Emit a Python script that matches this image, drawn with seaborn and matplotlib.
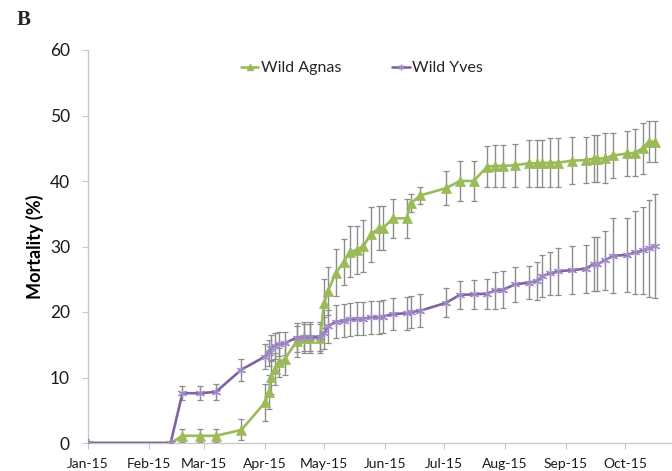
import matplotlib
matplotlib.use("Agg")
import matplotlib.pyplot as plt
import matplotlib.dates as mdates
from matplotlib.lines import Line2D
import seaborn as sns
import pandas as pd

# Sampling dates (2015)
dates = [
    "2015-01-01", "2015-02-12", "2015-02-18", "2015-02-27", "2015-03-07",
    "2015-03-20", "2015-04-01", "2015-04-03", "2015-04-04", "2015-04-06",
    "2015-04-08", "2015-04-11", "2015-04-17", "2015-04-21", "2015-04-24",
    "2015-04-29", "2015-05-01", "2015-05-03", "2015-05-07", "2015-05-11",
    "2015-05-14", "2015-05-18", "2015-05-21", "2015-05-25", "2015-05-29",
    "2015-05-31", "2015-06-05", "2015-06-12", "2015-06-14", "2015-06-19",
    "2015-07-02", "2015-07-09", "2015-07-16", "2015-07-23", "2015-07-27",
    "2015-07-31", "2015-08-06", "2015-08-13", "2015-08-17", "2015-08-20",
    "2015-08-24", "2015-08-28", "2015-09-04", "2015-09-11", "2015-09-15",
    "2015-09-17", "2015-09-21", "2015-09-25", "2015-10-02", "2015-10-06",
    "2015-10-10", "2015-10-13", "2015-10-16",
]

# Cumulative mortality (%) and error, Wild Agnas
agnas = [
    0, 0, 1.1, 1.1, 1.1, 2.0, 6.2, 7.8, 10.1, 11.3, 12.3, 12.8, 15.5, 16.0,
    16.0, 16.0, 21.3, 23.2, 26.0, 27.6, 29.2, 29.5, 30.1, 31.9, 32.8, 32.8,
    34.3, 34.3, 36.6, 37.8, 38.9, 40.0, 40.0, 42.2, 42.3, 42.3, 42.4, 42.7,
    42.7, 42.7, 42.8, 42.8, 43.1, 43.2, 43.4, 43.4, 43.5, 43.9, 44.2, 44.3,
    45.0, 46.0, 46.0,
]
agnas_err = [
    0, 0, 1.0, 1.0, 1.0, 1.6, 2.8, 2.6, 2.6, 2.5, 2.2, 2.4, 2.3, 2.2, 2.2,
    2.2, 3.7, 3.7, 3.6, 3.5, 3.9, 3.7, 4.0, 4.2, 3.4, 3.4, 3.0, 3.0, 1.4,
    1.3, 2.6, 3.0, 3.0, 3.1, 3.2, 3.2, 3.3, 3.6, 3.6, 3.6, 3.7, 3.7, 3.6,
    3.5, 3.6, 3.6, 3.8, 3.5, 3.5, 3.6, 3.9, 3.1, 3.1,
]

# Cumulative mortality (%) and error, Wild Yves
yves = [
    0, 0, 7.6, 7.6, 7.8, 11.2, 13.2, 13.8, 14.5, 14.8, 15.1, 15.2, 16.1, 16.2,
    16.2, 16.2, 16.8, 17.8, 18.5, 18.7, 18.9, 19.0, 19.0, 19.2, 19.2, 19.3,
    19.7, 19.8, 20.0, 20.2, 21.4, 22.6, 22.7, 22.8, 23.3, 23.4, 24.2, 24.5,
    24.7, 25.5, 25.9, 26.2, 26.4, 26.6, 27.3, 27.3, 27.9, 28.6, 28.7, 29.1,
    29.4, 29.7, 30.1,
]
yves_err = [
    0, 0, 1.1, 1.1, 1.2, 1.7, 1.9, 2.0, 2.0, 2.0, 1.8, 1.8, 2.2, 2.2, 2.2,
    2.2, 2.5, 2.5, 2.5, 2.5, 2.5, 2.5, 2.5, 2.5, 2.5, 2.5, 2.5, 2.5, 2.5,
    2.5, 2.2, 2.2, 2.2, 2.3, 2.8, 2.8, 2.6, 2.5, 2.9, 3.2, 3.3, 3.6, 3.7,
    3.7, 4.1, 4.1, 4.5, 5.7, 5.6, 6.3, 6.6, 7.4, 7.9,
]

series_names = ["Wild Agnas", "Wild Yves"]
month_ticks = ["2015-01-01", "2015-02-01", "2015-03-01", "2015-04-01",
               "2015-05-01", "2015-06-01", "2015-07-01", "2015-08-01",
               "2015-09-01", "2015-10-01"]
y_ticks = [0, 10, 20, 30, 40, 50, 60]

GREEN = "#9BBB59"
PURPLE = "#8064A2"
PURPLE_MARK = "#A08BC4"
AXIS_GREY = "#C8C8C8"
BAR_GREY = "#8C8C8C"

sns.set_theme(style="white")
plt.rcParams["font.family"] = ["Lato", "DejaVu Sans"]

t = pd.to_datetime(dates)
df = pd.DataFrame({
    "date": list(t) * 2,
    "mortality": agnas + yves,
    "group": [series_names[0]] * len(t) + [series_names[1]] * len(t),
})

fig = plt.figure(figsize=(6.72, 4.71), dpi=100)
ax = fig.add_axes([88 / 672, 28 / 471, 598 / 672, 393 / 471])

# Error bars behind the lines
for vals, errs in ((agnas, agnas_err), (yves, yves_err)):
    eb = ax.errorbar(t, vals, yerr=errs, fmt="none", ecolor=BAR_GREY,
                     elinewidth=1.0, capsize=2.3, capthick=0.9, zorder=1)
    for cap in eb[1]:
        cap.set_color("#555555")

asterisk = (6, 2, 0)
sns.lineplot(data=df[df.group == series_names[0]], x="date", y="mortality",
             color=GREEN, linewidth=1.9, marker="^", markersize=6.5,
             markeredgecolor=GREEN, markerfacecolor=GREEN, markeredgewidth=0.5,
             estimator=None, ax=ax, zorder=3)
sns.lineplot(data=df[df.group == series_names[1]], x="date", y="mortality",
             color=PURPLE, linewidth=1.9, marker=asterisk, markersize=6.5,
             markeredgecolor=PURPLE_MARK, markeredgewidth=0.9,
             estimator=None, ax=ax, zorder=4)

# Axes styling
ax.set_xlim(pd.Timestamp("2015-01-01"), pd.Timestamp("2015-11-01"))
ax.set_ylim(0, 60)
ax.set_yticks(y_ticks)
ax.set_xticks(pd.to_datetime(month_ticks))
ax.xaxis.set_major_formatter(mdates.DateFormatter("%b-%y"))

for side in ("top", "right"):
    ax.spines[side].set_visible(False)
for side in ("left", "bottom"):
    ax.spines[side].set_color(AXIS_GREY)
    ax.spines[side].set_linewidth(1.0)

ax.tick_params(axis="y", which="major", direction="out", length=4,
               width=0.8, color=AXIS_GREY, labelsize=12.5, pad=9,
               labelcolor="#1a1a1a", left=True)
ax.tick_params(axis="x", which="major", direction="out", length=4,
               width=0.8, color=AXIS_GREY, labelsize=10, pad=7,
               labelcolor="#1a1a1a", bottom=True)
ax.grid(False)

ax.set_xlabel("")
ax.set_ylabel("Mortality (%)", fontsize=13, fontweight="bold",
              color="#000000", labelpad=4)

handles = [
    Line2D([], [], color=GREEN, linewidth=1.9, marker="^", markersize=4,
           markerfacecolor=GREEN, markeredgecolor=GREEN),
    Line2D([], [], color=PURPLE, linewidth=1.9, marker=asterisk,
           markersize=4, markeredgecolor=PURPLE_MARK),
]
ax.legend(handles, series_names, ncol=2, frameon=False, loc="center",
          bbox_to_anchor=(0.458, 0.954), fontsize=11.5, handlelength=1.1,
          handletextpad=0.15, columnspacing=3.2)

fig.text(17 / 672, 1 - 20 / 471, "B", fontsize=15, fontweight="bold",
         family=["Liberation Serif", "DejaVu Serif"], va="center", ha="left")

fig.savefig("out.png", dpi=100)
